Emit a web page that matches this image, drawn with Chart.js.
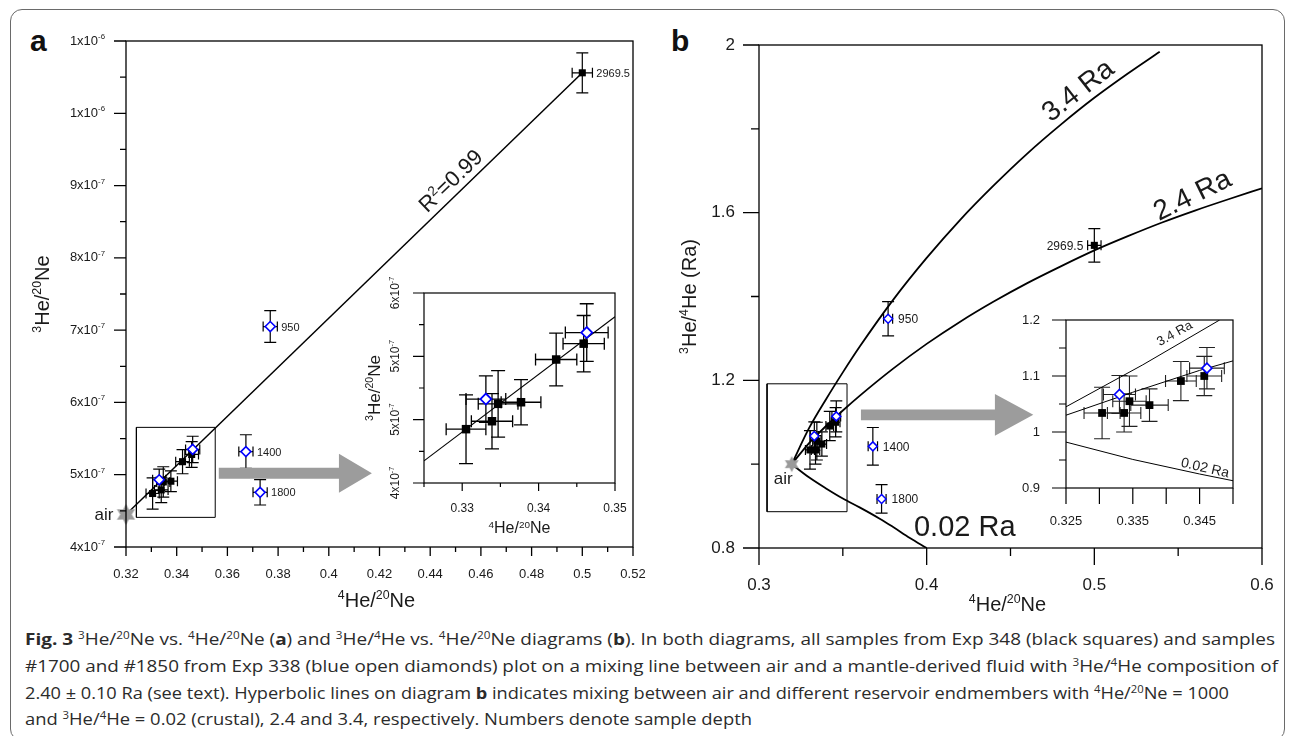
<!DOCTYPE html>
<html><head><meta charset="utf-8">
<script src="https://cdn.jsdelivr.net/npm/chart.js@4.4.1/dist/chart.umd.min.js"></script>
<style>
html,body{margin:0;padding:0;background:#fff;}
body{width:1293px;height:736px;overflow:hidden;position:relative;font-family:'Liberation Sans',Arimo,Arial,sans-serif;}
#frame{position:absolute;left:10px;top:9px;width:1275px;height:732px;border:1.5px solid #6a6a6a;border-radius:12px;box-sizing:border-box;}
canvas{position:absolute;}
.plab{position:absolute;font-weight:bold;font-size:30px;line-height:30px;color:#111;}
.ln{position:absolute;left:25px;display:inline-block;white-space:nowrap;font-family:'Open Sans','Noto Sans',sans-serif;font-size:16px;line-height:20px;color:#2b2b2b;transform-origin:0 50%;}
.ln b{font-weight:700;}
.ln sup{font-size:0.62em;vertical-align:0.62em;line-height:0;}
</style></head><body>
<div id="frame"></div>
<div class="plab" style="left:30px;top:26px;">a</div>
<div class="plab" style="left:671px;top:26px;">b</div>
<canvas id="ca" width="660" height="620" style="left:0;top:0"></canvas>
<canvas id="cai" width="290" height="280" style="left:340px;top:270px"></canvas>
<canvas id="cb" width="633" height="620" style="left:660px;top:0"></canvas>
<canvas id="cbi" width="260" height="240" style="left:1000px;top:300px"></canvas>

<div class="ln" data-w="1250" style="top:629px"><b>Fig. 3</b> <sup>3</sup>He/<sup>20</sup>Ne vs. <sup>4</sup>He/<sup>20</sup>Ne (<b>a</b>) and <sup>3</sup>He/<sup>4</sup>He vs. <sup>4</sup>He/<sup>20</sup>Ne diagrams (<b>b</b>). In both diagrams, all samples from Exp 348 (black squares) and samples</div>
<div class="ln" data-w="1253" style="top:656px">#1700 and #1850 from Exp 338 (blue open diamonds) plot on a mixing line between air and a mantle-derived fluid with <sup>3</sup>He/<sup>4</sup>He composition of</div>
<div class="ln" data-w="1204" style="top:682.5px">2.40 ± 0.10 Ra (see text). Hyperbolic lines on diagram <b>b</b> indicates mixing between air and different reservoir endmembers with <sup>4</sup>He/<sup>20</sup>Ne = 1000</div>
<div class="ln" data-w="727" style="top:709px">and <sup>3</sup>He/<sup>4</sup>He = 0.02 (crustal), 2.4 and 3.4, respectively. Numbers denote sample depth</div>

<script>
const FONT = "'Liberation Sans', Arimo, Arial, sans-serif";

// ================= DATA =================
// Panel a axes
const aXTicks = [0.32,0.34,0.36,0.38,0.40,0.42,0.44,0.46,0.48,0.50,0.52];
const aXLabels = ['0.32','0.34','0.36','0.38','0.4','0.42','0.44','0.46','0.48','0.5','0.52'];
const aYTicks = [4e-7,5e-7,6e-7,7e-7,8e-7,9e-7,1e-6,1.1e-6];
const aYLabels = ['4x10^{-7}','5x10^{-7}','6x10^{-7}','7x10^{-7}','8x10^{-7}','9x10^{-7}','1x10^{-6}','1x10^{-6}'];
const aiXTicks = [0.33,0.34,0.35];
const aiXLabels = ['0.33','0.34','0.35'];
const aiYTicks = [4.4e-7,4.8e-7,5.2e-7,5.6e-7];
const aiYLabels = ['4x10^{-7}','5x10^{-7}','5x10^{-7}','6x10^{-7}'];

// Panel a series (4He/20Ne, 3He/20Ne)
const aBlackX    = [0.3305, 0.3339, 0.3347, 0.3377, 0.3423, 0.3459, 0.500];
const aBlackY    = [4.74e-7, 4.79e-7, 4.90e-7, 4.91e-7, 5.18e-7, 5.28e-7, 1.056e-6];
const aBlackXErr = [0.0026, 0.0027, 0.0026, 0.0026, 0.0027, 0.0027, 0.004];
const aBlackYErr = [0.217e-7, 0.175e-7, 0.21e-7, 0.143e-7, 0.167e-7, 0.178e-7, 0.277e-7];
const aBlackDepth= ['', '', '', '', '', '', '2969.5'];
const aBlueX     = [0.3331, 0.3463, 0.3769, 0.3673, 0.3729];
const aBlueY     = [4.93e-7, 5.35e-7, 7.05e-7, 5.32e-7, 4.756e-7];
const aBlueXErr  = [0.0026, 0.0028, 0.0028, 0.0028, 0.0028];
const aBlueYErr  = [0.147e-7, 0.182e-7, 0.219e-7, 0.233e-7, 0.175e-7];
const aBlueDepth = ['', '', '950', '1400', '1800'];
const aFitX = [0.32, 0.50];
const aFitY = [4.45e-7, 1.056e-6];
const aiFitX = [0.325, 0.35];
const aiFitY = [4.54e-7, 5.45e-7];
const aAirX = [0.32];
const aAirY = [4.45e-7];
const aBoxX = [0.3241, 0.3552, 0.3552, 0.3241, 0.3241];
const aBoxY = [4.41e-7, 4.41e-7, 5.655e-7, 5.655e-7, 4.41e-7];

// Panel b axes
const bXTicks = [0.3,0.4,0.5,0.6];
const bXLabels = ['0.3','0.4','0.5','0.6'];
const bYTicks = [0.8,1.2,1.6,2.0];
const bYLabels = ['0.8','1.2','1.6','2'];
const biXTicks = [0.325,0.33,0.335,0.34,0.345,0.35];
const biXLabels = ['0.325','','0.335','','0.345',''];
const biYTicks = [0.9,1.0,1.1,1.2];
const biYLabels = ['0.9','1','1.1','1.2'];

// Panel b series (4He/20Ne, 3He/4He in Ra)
const bBlackX    = [0.3304, 0.3337, 0.3345, 0.3375, 0.3422, 0.3457, 0.500];
const bBlackY    = [1.034, 1.034, 1.055, 1.048, 1.091, 1.100, 1.522];
const bBlackXErr = [0.0027, 0.0025, 0.0025, 0.0028, 0.0023, 0.0026, 0.004];
const bBlackYErr = [0.046, 0.034, 0.045, 0.029, 0.035, 0.035, 0.040];
const bBlackDepth= ['', '', '', '', '', '', '2969.5'];
const bBlueX     = [0.3330, 0.3461, 0.3770, 0.3679, 0.3731];
const bBlueY     = [1.067, 1.114, 1.347, 1.0425, 0.917];
const bBlueXErr  = [0.0024, 0.0026, 0.0027, 0.0028, 0.0027];
const bBlueYErr  = [0.034, 0.037, 0.041, 0.045, 0.034];
const bBlueDepth = ['', '', '950', '1400', '1800'];
const bAirX = [0.3195];
const bAirY = [1.0];
const b34X  = [0.3195,0.33,0.34,0.35,0.36,0.38,0.40,0.42,0.44,0.46,0.48,0.50,0.52,0.539];
const b34Y  = [1.000,1.087,1.155,1.219,1.280,1.392,1.492,1.583,1.665,1.741,1.810,1.874,1.932,1.984];
const b24X  = [0.3195,0.33,0.34,0.35,0.36,0.38,0.40,0.42,0.44,0.46,0.48,0.50,0.52,0.54,0.56,0.58,0.60];
const b24Y  = [1.000,1.051,1.091,1.128,1.163,1.228,1.287,1.340,1.388,1.432,1.472,1.510,1.544,1.576,1.605,1.632,1.658];
const b002X = [0.3195,0.33,0.34,0.35,0.36,0.372,0.38,0.39,0.40];
const b002Y = [1.000,0.968,0.942,0.918,0.897,0.870,0.850,0.824,0.800];
const bi34X = [0.325,0.3365,0.348];
const bi34Y = [1.045,1.120,1.200];
const bi24X = [0.325,0.335,0.345,0.35];
const bi24Y = [1.030,1.071,1.110,1.127];
const bi002X= [0.325,0.335,0.345,0.35];
const bi002Y= [0.982,0.951,0.925,0.913];
const bBoxX = [0.3048, 0.3525, 0.3525, 0.3048, 0.3048];
const bBoxY = [0.8866, 0.8866, 1.1917, 1.1917, 0.8866];

// ================= HELPERS =================
function parseRich(s){
  const parts=[]; const re=/\^\{([^}]*)\}/g; let last=0,m;
  while((m=re.exec(s))){ if(m.index>last) parts.push([s.slice(last,m.index),false]); parts.push([m[1],true]); last=re.lastIndex; }
  if(last<s.length) parts.push([s.slice(last),false]);
  return parts;
}
function drawRich(ctx, s, x, y, size, opt={}){
  const align=opt.align||'center', rot=(opt.rot||0)*Math.PI/180, color=opt.color||'#1a1a1a';
  const ss=opt.supScale||0.62, sr=opt.supRaise||0.26, weight=opt.weight||'normal';
  const parts=parseRich(s);
  ctx.save(); ctx.translate(x,y); ctx.rotate(rot); ctx.fillStyle=color; ctx.textBaseline='middle'; ctx.textAlign='left';
  const fN=`${weight} ${size}px ${FONT}`, fS=`${weight} ${size*ss}px ${FONT}`;
  let w=0; const ws=parts.map(([t,sup])=>{ctx.font=sup?fS:fN; const mw=ctx.measureText(t).width; w+=mw; return mw;});
  let cx = align==='center'? -w/2 : (align==='right'? -w : 0);
  parts.forEach(([t,sup],i)=>{ ctx.font=sup?fS:fN; ctx.fillText(t,cx,sup? -size*sr : 0); cx+=ws[i]; });
  ctx.restore();
}
function makeStar(r,color){
  const c=document.createElement('canvas'); c.width=c.height=Math.ceil(2*r+2);
  const g=c.getContext('2d'); g.fillStyle=color; g.beginPath();
  for(let i=0;i<12;i++){ const a=Math.PI/6*i-Math.PI/2; const rr=(i%2)? r*0.55 : r; g.lineTo(c.width/2+rr*Math.cos(a), c.height/2+rr*Math.sin(a)); }
  g.closePath(); g.fill(); return c;
}
const pts=(xa,ya)=>xa.map((x,i)=>({x, y:ya[i]}));
const lineDS=(xa,ya,w,smooth)=>({data:pts(xa,ya), borderColor:'#000', borderWidth:w, pointRadius:0, fill:false, tension:0, cubicInterpolationMode:smooth?'monotone':'default', showLine:true});
const sqDS=(xa,ya,ex,ey,r)=>({data:pts(xa,ya), showLine:false, pointStyle:'rect', pointRadius:r, pointBackgroundColor:'#000', pointBorderColor:'#000', pointBorderWidth:0, errX:ex, errY:ey, clip:false});
const diaDS=(xa,ya,ex,ey,r,bw)=>({data:pts(xa,ya), showLine:false, pointStyle:'rectRot', pointRadius:r, pointBackgroundColor:'#fff', pointBorderColor:'#0000ff', pointBorderWidth:bw, errX:ex, errY:ey, clip:false});
const starDS=(xa,ya,r)=>({data:pts(xa,ya), showLine:false, pointStyle:makeStar(r,'#9a9a9a'), pointRadius:r, clip:false});
function depthTexts(xa,ya,labels,dx,align,size){
  const out=[]; labels.forEach((t,i)=>{ if(t) out.push({t, x:xa[i], y:ya[i], dx, dy:1, align, size}); }); return out;
}

const DECO = {};
const decoPlugin = {
  id:'deco',
  beforeDatasetsDraw(chart){
    const o=DECO[chart.canvas.id]; const ctx=chart.ctx; const xs=chart.scales.x, ys=chart.scales.y;
    ctx.save(); ctx.strokeStyle=o.errColor||'#000'; ctx.lineWidth=o.errW||1.2;
    chart.data.datasets.forEach(ds=>{
      if(!ds.errX && !ds.errY) return;
      ds.data.forEach((p,i)=>{
        const px=xs.getPixelForValue(p.x), py=ys.getPixelForValue(p.y);
        ctx.beginPath();
        if(ds.errY){ const e=ds.errY[i]; const y1=ys.getPixelForValue(p.y+e), y2=ys.getPixelForValue(p.y-e);
          ctx.moveTo(px,y1); ctx.lineTo(px,y2);
          ctx.moveTo(px-o.capY,y1); ctx.lineTo(px+o.capY,y1); ctx.moveTo(px-o.capY,y2); ctx.lineTo(px+o.capY,y2); }
        if(ds.errX){ const e=ds.errX[i]; const x1=xs.getPixelForValue(p.x-e), x2=xs.getPixelForValue(p.x+e);
          ctx.moveTo(x1,py); ctx.lineTo(x2,py);
          ctx.moveTo(x1,py-o.capX); ctx.lineTo(x1,py+o.capX); ctx.moveTo(x2,py-o.capX); ctx.lineTo(x2,py+o.capX); }
        ctx.stroke();
      });
    });
    const a=o.arrow;
    if(a){
      const x0=xs.getPixelForValue(a.x0), x1=xs.getPixelForValue(a.x1), x2=xs.getPixelForValue(a.x2), y=ys.getPixelForValue(a.y);
      ctx.beginPath(); ctx.moveTo(x0,y-a.shaft); ctx.lineTo(x1,y-a.shaft); ctx.lineTo(x1,y-a.head); ctx.lineTo(x2,y);
      ctx.lineTo(x1,y+a.head); ctx.lineTo(x1,y+a.shaft); ctx.lineTo(x0,y+a.shaft); ctx.closePath();
      ctx.fillStyle=a.color; ctx.fill();
    }
    ctx.restore();
  },
  afterDraw(chart){
    const o=DECO[chart.canvas.id]; const ctx=chart.ctx; const xs=chart.scales.x, ys=chart.scales.y;
    const {left,right,top,bottom}=chart.chartArea;
    ctx.save();
    ctx.strokeStyle='#000'; ctx.lineWidth=o.frameW;
    ctx.strokeRect(left,top,right-left,bottom-top);
    ctx.beginPath();
    const xt=xs.ticks.map(t=>t.value);
    xt.forEach(v=>{ const p=xs.getPixelForValue(v); ctx.moveTo(p,bottom); ctx.lineTo(p,bottom+o.x.len); });
    if(o.x.minorLen){ const st=xt[1]-xt[0]; for(let m=xt[0]-st/2; m<=xs.max+1e-12; m+=st){ if(m>=xs.min-1e-12){ const p=xs.getPixelForValue(m); ctx.moveTo(p,bottom); ctx.lineTo(p,bottom+o.x.minorLen);} } }
    const yt=ys.ticks.map(t=>t.value);
    yt.forEach(v=>{ const p=ys.getPixelForValue(v); ctx.moveTo(left,p); ctx.lineTo(left-o.y.len,p); });
    if(o.y.minorLen){ const st=yt[1]-yt[0]; for(let m=yt[0]-st/2; m<=ys.max+st*1e-6; m+=st){ if(m>=ys.min-st*1e-6){ const p=ys.getPixelForValue(m); ctx.moveTo(left,p); ctx.lineTo(left-o.y.minorLen,p);} } }
    ctx.stroke();
    xt.forEach((v,i)=>{ const s=o.x.labels[i]; if(s) drawRich(ctx,s,xs.getPixelForValue(v),bottom+o.x.off,o.x.font,{align:'center'}); });
    yt.forEach((v,i)=>{ const s=o.y.labels[i]; if(!s) return; const p=ys.getPixelForValue(v);
      if(o.y.rot) drawRich(ctx,s,left+o.y.off,p,o.y.font,{align:'center',rot:-90,supScale:0.6,supRaise:0.32});
      else drawRich(ctx,s,left+o.y.off,p,o.y.font,{align:'right',supScale:0.6,supRaise:0.32}); });
    (o.titles||[]).forEach(t=>{
      if(t.axis==='x') drawRich(ctx,t.t,(left+right)/2+(t.dx||0),bottom+t.off,t.size,{align:'center'});
      else drawRich(ctx,t.t,left+t.off,(top+bottom)/2+(t.dy||0),t.size,{align:'center',rot:-90});
    });
    (o.texts||[]).forEach(t=>{
      drawRich(ctx,t.t,xs.getPixelForValue(t.x)+(t.dx||0),ys.getPixelForValue(t.y)+(t.dy||0),t.size,{align:t.align||'center',rot:t.rot||0});
    });
    ctx.restore();
  }
};

function makeChart(id,cfg){
  DECO[id]=cfg.deco;
  return new Chart(document.getElementById(id),{
    type:'line',
    data:{datasets:cfg.datasets},
    options:{
      responsive:false, animation:false, events:[], devicePixelRatio:1,
      layout:{padding:cfg.pad},
      plugins:{legend:{display:false}, tooltip:{enabled:false}},
      scales:{
        x:{type:'linear', min:cfg.xr[0], max:cfg.xr[1], grid:{display:false,drawTicks:false}, border:{display:false}, ticks:{display:false},
           afterBuildTicks:s=>{s.ticks=cfg.xt.map(v=>({value:v}));}, afterFit:s=>{s.height=cfg.xH;}},
        y:{type:'linear', min:cfg.yr[0], max:cfg.yr[1], grid:{display:false,drawTicks:false}, border:{display:false}, ticks:{display:false},
           afterBuildTicks:s=>{s.ticks=cfg.yt.map(v=>({value:v}));}, afterFit:s=>{s.width=cfg.yW;}}
      }
    },
    plugins:[decoPlugin]
  });
}

// ---------- Panel a main ----------
makeChart('ca',{
  pad:{left:0,top:41,right:27,bottom:0}, yW:126, xH:73,
  xr:[0.32,0.52], yr:[4e-7,1.1e-6], xt:aXTicks, yt:aYTicks,
  datasets:[
    diaDS(aBlueX,aBlueY,aBlueXErr,aBlueYErr,5,1.6),
    sqDS(aBlackX,aBlackY,aBlackXErr,aBlackYErr,5),
    starDS(aAirX,aAirY,10.5),
    lineDS(aFitX,aFitY,1.5,false),
    lineDS(aBoxX,aBoxY,1,false)
  ],
  deco:{frameW:1.3, errW:1.2, capX:5, capY:6,
    x:{len:9,minorLen:5,off:27,font:13,labels:aXLabels},
    y:{len:12,minorLen:6,off:-21,font:13,labels:aYLabels},
    titles:[{axis:'x',t:'^{4}He/^{20}Ne',off:54,size:20,dx:-3},{axis:'y',t:'^{3}He/^{20}Ne',off:-83,size:20}],
    texts:[{t:'R^{2}=0.99',x:0.4484,y:9.055e-7,size:22,rot:-44},{t:'air',x:0.3113,y:4.44e-7,size:17}]
      .concat(depthTexts(aBlackX,aBlackY,aBlackDepth,14,'left',11))
      .concat(depthTexts(aBlueX,aBlueY,aBlueDepth,11,'left',11)),
    arrow:{x0:0.3566,x1:0.404,x2:0.417,y:5.02e-7,shaft:5.5,head:19.5,color:'#9c9c9c'}
  }
});

// ---------- Panel a inset ----------
makeChart('cai',{
  pad:{left:0,top:23,right:15,bottom:0}, yW:84, xH:67,
  xr:[0.325,0.35], yr:[4.4e-7,5.6e-7], xt:aiXTicks, yt:aiYTicks,
  datasets:[
    diaDS(aBlueX.slice(0,2),aBlueY.slice(0,2),aBlueXErr.slice(0,2),aBlueYErr.slice(0,2),5.5,1.8),
    sqDS(aBlackX.slice(0,6),aBlackY.slice(0,6),aBlackXErr.slice(0,6),aBlackYErr.slice(0,6),6),
    lineDS(aiFitX,aiFitY,1.1,false)
  ],
  deco:{frameW:1.2, errW:1.3, capX:6, capY:7,
    x:{len:8,minorLen:4,off:26,font:12,labels:aiXLabels},
    y:{len:11,minorLen:5,off:-28,font:12,labels:aiYLabels,rot:true},
    titles:[{axis:'x',t:'^{4}He/^{20}Ne',off:46,size:16},{axis:'y',t:'^{3}He/^{20}Ne',off:-49,size:17}]
  }
});

// ---------- Panel b main ----------
makeChart('cb',{
  pad:{left:0,top:45,right:31,bottom:0}, yW:99, xH:72,
  xr:[0.3,0.6], yr:[0.8,2.0], xt:bXTicks, yt:bYTicks,
  datasets:[
    diaDS(bBlueX,bBlueY,bBlueXErr,bBlueYErr,4.5,1.5),
    sqDS(bBlackX,bBlackY,bBlackXErr,bBlackYErr,5),
    starDS(bAirX,bAirY,8),
    lineDS(b34X,b34Y,1.8,true),
    lineDS(b24X,b24Y,1.8,true),
    lineDS(b002X,b002Y,1.8,true),
    lineDS(bBoxX,bBoxY,1,false)
  ],
  deco:{frameW:1.3, errW:1.2, capX:5, capY:6,
    x:{len:17,minorLen:8,off:37,font:17,labels:bXLabels},
    y:{len:16,minorLen:8,off:-24,font:17,labels:bYLabels},
    titles:[{axis:'x',t:'^{4}He/^{20}Ne',off:57,size:20,dx:-3},{axis:'y',t:'^{3}He/^{4}He (Ra)',off:-69,size:20}],
    texts:[{t:'3.4 Ra',x:0.4905,y:1.8897,size:28,rot:-38},{t:'2.4 Ra',x:0.5587,y:1.64,size:28,rot:-26},
           {t:'0.02 Ra',x:0.4227,y:0.847,size:29},{t:'air',x:0.3144,y:0.965,size:17}]
      .concat(depthTexts(bBlackX,bBlackY,bBlackDepth,-11,'right',12))
      .concat(depthTexts(bBlueX,bBlueY,bBlueDepth,10,'left',12)),
    arrow:{x0:0.3608,x1:0.4407,x2:0.4636,y:1.1177,shaft:5.4,head:20.8,color:'#9c9c9c'}
  }
});

// ---------- Panel b inset ----------
makeChart('cbi',{
  pad:{left:0,top:20,right:27,bottom:0}, yW:66, xH:52,
  xr:[0.325,0.35], yr:[0.9,1.2], xt:biXTicks, yt:biYTicks,
  datasets:[
    diaDS(bBlueX.slice(0,2),bBlueY.slice(0,2),bBlueXErr.slice(0,2),bBlueYErr.slice(0,2),5,1.6),
    sqDS(bBlackX.slice(0,6),bBlackY.slice(0,6),bBlackXErr.slice(0,6),bBlackYErr.slice(0,6),5.5),
    lineDS(bi34X,bi34Y,1,false),
    lineDS(bi24X,bi24Y,1,false),
    lineDS(bi002X,bi002Y,1,false)
  ],
  deco:{frameW:1.2, errW:1.1, errColor:'#222', capX:6, capY:8,
    x:{len:16,minorLen:0,off:33,font:13,labels:biXLabels},
    y:{len:14,minorLen:7,off:-26,font:13,labels:biYLabels},
    texts:[{t:'3.4 Ra',x:0.3413,y:1.1755,size:13,rot:-29},{t:'0.02 Ra',x:0.3458,y:0.9352,size:14,rot:13}]
  }
});

// ---------- caption fitting ----------
function fitCaption(){
  document.querySelectorAll('.ln').forEach(el=>{
    el.style.transform='none';
    const w=el.getBoundingClientRect().width; const t=+el.dataset.w;
    if(w>0) el.style.transform=`scaleX(${t/w})`;
  });
}
fitCaption();
if(document.fonts && document.fonts.ready) document.fonts.ready.then(fitCaption);
</script>
</body></html>
